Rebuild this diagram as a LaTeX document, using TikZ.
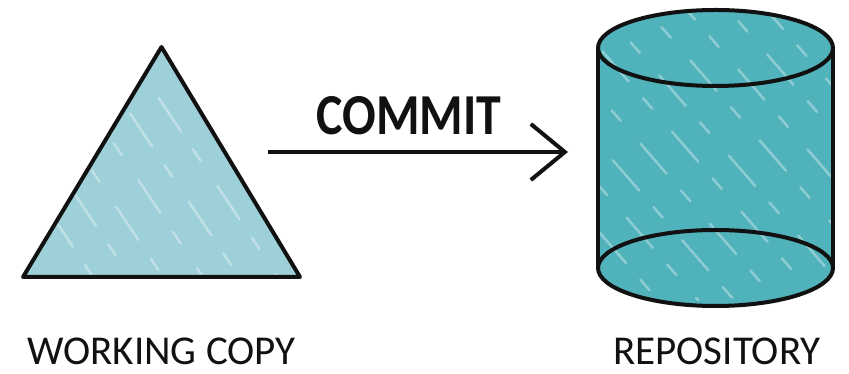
\documentclass[tikz,border=0pt]{standalone}
\usepackage{fontspec}
\setmainfont{Carlito}
\usetikzlibrary{arrows.meta, positioning, calc}
\definecolor{wcblue}{HTML}{9DD0D8}
\definecolor{repoteal}{HTML}{50B2BB}
\definecolor{inkline}{HTML}{111111}

\begin{document}
\begin{tikzpicture}[
  x=1pt, y=1pt,
  shapebox/.style={inner sep=0pt, outer sep=0pt},
  outline/.style={draw=inkline, line width=4pt, line join=round},
  streak/.style={white, opacity=0.35, line width=2.5pt, line cap=round, dash pattern=on 40pt off 22pt on 14pt off 30pt},
  caption/.style={font=\fontsize{41}{45}\selectfont, text=inkline, inner sep=0pt, anchor=base},
  commitlabel/.style={font=\fontsize{58}{62}\selectfont\bfseries, text=inkline, inner sep=0pt, anchor=base},
  commitarrow/.style={draw=inkline, line width=4pt, -{Straight Barb[length=34pt, width=56pt]}}
]
\useasboundingbox (0,0) rectangle (849,374);

\node[shapebox, minimum width=277pt, minimum height=230pt] (wc) at (161.5,212) {};
\node[shapebox, minimum width=235pt, minimum height=296pt] (repo) at (715.5,216) {};
\coordinate (top) at ($(repo.north)+(0,-38)$);
\coordinate (bot) at ($(repo.south)+(0,38)$);

% working copy
\fill[wcblue] (wc.north) -- (wc.south east) -- (wc.south west) -- cycle;
\begin{scope}
  \clip (wc.north) -- (wc.south east) -- (wc.south west) -- cycle;
  \foreach \s/\d in {0/0,37/25,70/8,110/40,146/14,185/33,220/5,262/28,300/12,340/36}
    \draw[streak, dash phase=\d pt] ($(wc.north west)+(\s-90,10)$) -- ++(160,-240);
\end{scope}
\draw[outline] (wc.north) -- (wc.south east) -- (wc.south west) -- cycle;

% repository
\fill[repoteal] ($(top)+(-117.5,0)$) arc[start angle=180, end angle=0, x radius=117.5, y radius=38]
  -- ($(bot)+(117.5,0)$) arc[start angle=0, end angle=-180, x radius=117.5, y radius=38] -- cycle;
\begin{scope}
  \clip ($(top)+(-117.5,0)$) arc[start angle=180, end angle=0, x radius=117.5, y radius=38]
    -- ($(bot)+(117.5,0)$) arc[start angle=0, end angle=-180, x radius=117.5, y radius=38] -- cycle;
  \foreach \s/\d in {0/10,40/30,76/0,118/22,160/38,196/6,240/26,280/14,322/34,360/2,400/20}
    \draw[streak, dash phase=\d pt] ($(repo.north west)+(\s-200,10)$) -- ++(260,-300);
\end{scope}
\draw[outline] (top) ellipse[x radius=117.5, y radius=38];
\draw[outline] (bot) ellipse[x radius=117.5, y radius=38];
\draw[outline] ($(top)+(-117.5,0)$) -- ($(bot)+(-117.5,0)$);
\draw[outline] ($(top)+(117.5,0)$) -- ($(bot)+(117.5,0)$);

% commit
\draw[commitarrow] ([shift={(-32,10)}]wc.east) -- ([shift={(-30,6)}]repo.west);
\node[commitlabel] (commit) at (409,239) {\scalebox{0.86}[1]{COMMIT}};

\node[caption] (wclabel) at (wc.south |- 0,9) {WORKING COPY};
\node[caption] (repolabel) at (717,9) {REPOSITORY};
\end{tikzpicture}
\end{document}
